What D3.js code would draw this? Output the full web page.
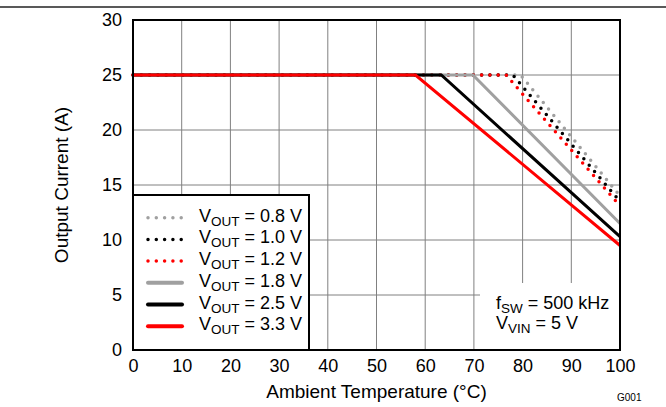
<!DOCTYPE html>
<html>
<head>
<style>
body {margin:0; background:#fff;}
text {font-family: "Liberation Sans", Arial, sans-serif; fill:#000;}
</style>
<script src="https://d3js.org/d3.v7.min.js"></script>
</head>
<body>
<svg id="vis" width="666" height="407"></svg>
<script>
// each curve is flat at 25 A until its knee, then falls to the value at 100 C
var vouts = ["0.8", "1.0", "1.2", "1.8", "2.5", "3.3"];
var kneeTemp = [79.6, 78.0, 76.6, 69.8, 63.3, 58.0];
var endCurrent = [14.0, 13.5, 13.1, 11.5, 10.3, 9.5];
var flatCurrent = 25;
var xTicks = [0, 10, 20, 30, 40, 50, 60, 70, 80, 90, 100];
var yTicks = [0, 5, 10, 15, 20, 25, 30];

var colors = ["#a0a0a0", "#000000", "#ff0000", "#a0a0a0", "#000000", "#ff0000"];
var dotted = [true, true, true, false, false, false];

var svg = d3.select("#vis");
var x = d3.scaleLinear().domain([0, 100]).range([133, 620]);
var y = d3.scaleLinear().domain([0, 30]).range([350, 20]);

// top rule
svg.append("line").attr("x1", 0).attr("x2", 666).attr("y1", 7).attr("y2", 7)
  .style("stroke", "#222").style("stroke-width", 1.5);

// grid
svg.selectAll(".gx").data(xTicks).enter().append("line")
  .attr("x1", function(d){ return x(d) }).attr("x2", function(d){ return x(d) })
  .attr("y1", y(0)).attr("y2", y(30))
  .style("stroke", "#808080").style("stroke-width", 1);
svg.selectAll(".gy").data(yTicks).enter().append("line")
  .attr("x1", x(0)).attr("x2", x(100))
  .attr("y1", function(d){ return y(d) }).attr("y2", function(d){ return y(d) })
  .style("stroke", "#808080").style("stroke-width", 1);

// curves
var line = d3.line().x(function(d){ return x(d[0]) }).y(function(d){ return y(d[1]) });
vouts.forEach(function(v, i) {
  var pts = [[0, flatCurrent], [kneeTemp[i], flatCurrent], [100, endCurrent[i]]];
  var p = svg.append("path").attr("d", line(pts))
    .style("fill", "none").style("stroke", colors[i]);
  if (dotted[i]) {
    p.style("stroke-width", 3.5).style("stroke-dasharray", "0 8.3").style("stroke-linecap", "round");
  } else {
    p.style("stroke-width", 3);
  }
});

// legend
svg.append("rect").attr("x", 133).attr("y", 195).attr("width", 176).attr("height", 155)
  .style("fill", "#fff").style("stroke", "#000").style("stroke-width", 2);
vouts.forEach(function(v, i) {
  var by = 221.7 + i * 21.7;
  var l = svg.append("line").attr("x1", 148).attr("x2", 182).attr("y1", by - 4).attr("y2", by - 4)
    .style("stroke", colors[i]);
  if (dotted[i]) {
    l.style("stroke-width", 3.5).style("stroke-dasharray", "0 8.3").style("stroke-linecap", "round");
  } else {
    l.style("stroke-width", 4).style("stroke-linecap", "round");
  }
  var t = svg.append("text").attr("x", 199).attr("y", by).style("font-size", "18px");
  t.append("tspan").text("V");
  t.append("tspan").attr("dy", 4).style("font-size", "13.5px").text("OUT");
  t.append("tspan").attr("dy", -4).text(" = " + v + " V");
});

// conditions box
svg.append("rect").attr("x", 480).attr("y", 283).attr("width", 140).attr("height", 67)
  .style("fill", "#fff");
var t1 = svg.append("text").attr("x", 496).attr("y", 309).style("font-size", "18px");
t1.append("tspan").text("f");
t1.append("tspan").attr("dy", 3.5).style("font-size", "13.5px").text("SW");
t1.append("tspan").attr("dy", -3.5).text(" = 500 kHz");
var t2 = svg.append("text").attr("x", 496).attr("y", 329).style("font-size", "18px");
t2.append("tspan").text("V");
t2.append("tspan").attr("dy", 3.5).style("font-size", "13.5px").text("VIN");
t2.append("tspan").attr("dy", -3.5).text(" = 5 V");

// frame
svg.append("rect").attr("x", x(0)).attr("y", y(30)).attr("width", x(100) - x(0)).attr("height", y(0) - y(30))
  .style("fill", "none").style("stroke", "#000").style("stroke-width", 2);

// axes
var xa = svg.append("g").attr("transform", "translate(0," + y(0) + ")")
  .call(d3.axisBottom(x).tickValues(xTicks).tickSize(0).tickPadding(9));
var ya = svg.append("g").attr("transform", "translate(" + x(0) + ",0)")
  .call(d3.axisLeft(y).tickValues(yTicks).tickSize(0).tickPadding(11));
[xa, ya].forEach(function(a) {
  a.select(".domain").remove();
  a.selectAll("text").style("font-size", "18px").style("font-family", "'Liberation Sans', Arial, sans-serif").attr("fill", "#000");
});

svg.append("text").attr("x", (x(0) + x(100)) / 2).attr("y", 398).attr("text-anchor", "middle")
  .style("font-size", "19px").text("Ambient Temperature (\u00B0C)");
svg.append("text").attr("transform", "translate(68," + (y(0) + y(30)) / 2 + ") rotate(-90)")
  .attr("text-anchor", "middle").style("font-size", "19px").text("Output Current (A)");

svg.append("text").attr("x", 617).attr("y", 401).style("font-size", "10px").text("G001");
</script>
</body>
</html>
